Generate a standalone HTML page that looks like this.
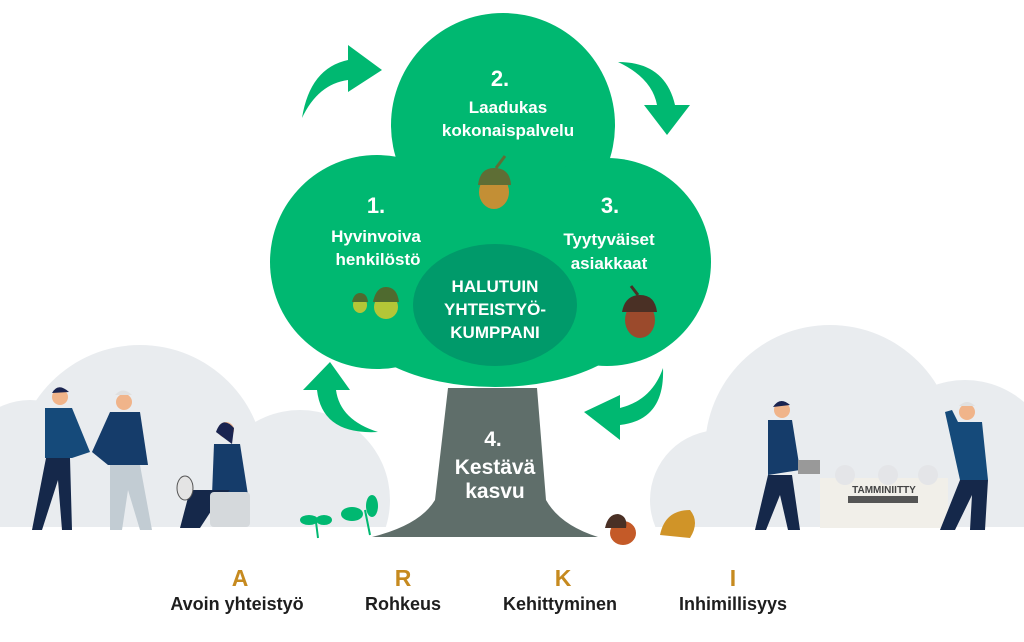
<!DOCTYPE html>
<html><head><meta charset="utf-8"><style>
html,body{margin:0;padding:0;background:#fff;width:1024px;height:642px;overflow:hidden}
svg{display:block}
text{font-family:"Liberation Sans",sans-serif;font-weight:bold;text-anchor:middle}
</style></head><body>
<svg width="1024" height="642" viewBox="0 0 1024 642">
<!-- hills -->
<g fill="#e9ecef">
<circle cx="140" cy="470" r="125"/>
<circle cx="30" cy="470" r="70"/>
<circle cx="300" cy="500" r="90"/>
<circle cx="830" cy="450" r="125"/>
<circle cx="965" cy="470" r="90"/>
<circle cx="720" cy="500" r="70"/>
</g>
<rect x="0" y="527" width="1024" height="115" fill="#fff"/>
<!-- canopy -->
<g fill="#00b871">
<circle cx="503" cy="125" r="112"/>
<circle cx="377" cy="262" r="107"/>
<circle cx="607" cy="262" r="104"/>
<ellipse cx="495" cy="315" rx="145" ry="72"/>
<rect x="385" y="170" width="225" height="150"/>
</g>
<ellipse cx="495" cy="305" rx="82" ry="61" fill="#009a6a"/>
<!-- trunk -->
<path d="M448 388 L537 388 L546 500 Q560 525 598 537 L372 537 Q420 525 435 500 Z" fill="#5f6e6a"/>
<!-- arrows -->
<g fill="#00b871">
<path d="M302 118 Q310 68 348 60 L348 45 L382 70 L348 92 L348 80 Q318 84 302 118 Z"/>
<path d="M618 62 Q665 62 675 105 L690 105 L667 135 L644 105 L657 105 Q652 78 618 62 Z"/>
<path d="M378 432 Q340 420 336 390 L350 390 L330 362 L303 390 L317 390 Q322 435 378 432 Z"/>
<path d="M663 368 Q665 420 620 425 L620 440 L584 412 L620 395 L620 408 Q652 400 663 368 Z"/>
</g>
<!-- acorns -->
<g>
<ellipse cx="494" cy="192" rx="15" ry="17" fill="#c38f35"/>
<path d="M478 185 Q480 168 494 168 Q510 168 511 185 Z" fill="#5e6e35"/>
<line x1="496" y1="168" x2="505" y2="156" stroke="#5e6e35" stroke-width="3"/>
<ellipse cx="360" cy="305" rx="7" ry="8" fill="#b4c637"/>
<path d="M352 302 Q354 293 360 293 Q367 293 368 302 Z" fill="#4f6a2f"/>
<ellipse cx="386" cy="307" rx="12" ry="12" fill="#b4c637"/>
<path d="M373 302 Q376 287 386 287 Q397 287 399 302 Z" fill="#4f6a2f"/>
<ellipse cx="640" cy="320" rx="15" ry="18" fill="#9b4a2c"/>
<path d="M622 312 Q625 295 640 295 Q655 295 657 312 Z" fill="#4a3025"/>
<line x1="638" y1="295" x2="631" y2="286" stroke="#4a3025" stroke-width="3"/>
<ellipse cx="623" cy="533" rx="13" ry="12" fill="#c45a28"/>
<path d="M605 528 Q608 514 618 514 Q628 516 626 528 Z" fill="#4a3025"/>
<path d="M660 535 Q665 510 690 510 Q700 522 690 538 Z" fill="#d09428"/>
</g>
<!-- sprouts -->
<g fill="#00b871" stroke="#00b871" stroke-width="2">
<line x1="316" y1="522" x2="318" y2="538"/>
<ellipse cx="309" cy="520" rx="8" ry="4"/><ellipse cx="324" cy="520" rx="7" ry="4"/>
<line x1="365" y1="510" x2="370" y2="535"/>
<ellipse cx="352" cy="514" rx="10" ry="6"/><ellipse cx="372" cy="506" rx="5" ry="10"/>
</g>
<!-- people simplified -->
<g>
<circle cx="60" cy="397" r="8" fill="#f0b48a"/><path d="M52 393 Q58 382 69 392 Z" fill="#1a2450"/>
<path d="M45 408 L72 408 L90 452 L72 458 L45 458 Z" fill="#154a7a"/>
<path d="M46 458 L70 458 L72 530 L62 530 L58 480 L42 530 L32 530 Z" fill="#15284a"/>
<circle cx="124" cy="402" r="8" fill="#f0b48a"/><path d="M115 395 Q123 386 132 395 Z" fill="#e0e0e0"/>
<path d="M110 412 L140 412 L148 465 L108 465 L92 452 Z" fill="#153c6a"/>
<path d="M110 465 L140 465 L152 530 L140 530 L128 490 L122 530 L110 530 Z" fill="#c2ccd3"/>
<circle cx="226" cy="430" r="8" fill="#f0b48a"/><path d="M216 432 Q222 415 234 428 L232 444 Z" fill="#1a2450"/>
<path d="M214 444 L240 444 L248 495 L212 495 Z" fill="#153c6a"/>
<path d="M190 490 L230 490 L215 505 L200 528 L180 528 Z" fill="#15284a"/>
<rect x="210" y="492" width="40" height="35" rx="4" fill="#d5d9dc"/>
<ellipse cx="185" cy="488" rx="8" ry="12" fill="#e4e4e4" stroke="#555" stroke-width="1"/>
<circle cx="782" cy="410" r="8" fill="#f0b48a"/><path d="M773 407 Q780 396 790 405 Z" fill="#1a2450"/>
<path d="M768 420 L792 420 L800 470 L768 475 Z" fill="#153c6a"/>
<path d="M768 475 L792 475 L800 530 L788 530 L780 495 L766 530 L755 530 Z" fill="#15284a"/>
<rect x="798" y="460" width="22" height="14" fill="#999"/>
<rect x="820" y="478" width="128" height="50" fill="#f1efe9"/>
<circle cx="845" cy="475" r="10" fill="#e4e5e8"/><circle cx="888" cy="475" r="10" fill="#e4e5e8"/><circle cx="928" cy="475" r="10" fill="#e4e5e8"/>
<text x="884" y="493" font-size="10" fill="#444">TAMMINIITTY</text>
<rect x="848" y="496" width="70" height="7" fill="#555"/>
<circle cx="967" cy="412" r="8" fill="#f0b48a"/><path d="M959 406 Q967 398 975 406 Z" fill="#e0e0e0"/>
<path d="M958 422 L982 422 L988 480 L960 480 L945 412 L952 410 Z" fill="#154a7a"/>
<path d="M960 480 L988 480 L985 530 L970 530 L972 495 L955 530 L940 530 Z" fill="#15284a"/>
</g>
<!-- tree text -->
<g fill="#fff">
<text x="500" y="86" font-size="22">2.</text>
<text x="508" y="113" font-size="17">Laadukas</text>
<text x="508" y="136" font-size="17">kokonaispalvelu</text>
<text x="376" y="213" font-size="22">1.</text>
<text x="376" y="242" font-size="17">Hyvinvoiva</text>
<text x="378" y="265" font-size="17">henkilöstö</text>
<text x="610" y="213" font-size="22">3.</text>
<text x="609" y="245" font-size="17">Tyytyväiset</text>
<text x="609" y="269" font-size="17">asiakkaat</text>
<text x="495" y="292" font-size="17">HALUTUIN</text>
<text x="495" y="315" font-size="17">YHTEISTYÖ-</text>
<text x="495" y="338" font-size="17">KUMPPANI</text>
<text x="493" y="446" font-size="21">4.</text>
<text x="495" y="474" font-size="21">Kestävä</text>
<text x="495" y="498" font-size="21">kasvu</text>
</g>
<!-- ARKI -->
<g fill="#c68a1f" font-size="23">
<text x="240" y="586">A</text><text x="403" y="586">R</text><text x="563" y="586">K</text><text x="733" y="586">I</text>
</g>
<g fill="#1e1e1e" font-size="18">
<text x="237" y="610">Avoin yhteistyö</text><text x="403" y="610">Rohkeus</text><text x="560" y="610">Kehittyminen</text><text x="733" y="610">Inhimillisyys</text>
</g>
</svg>
</body></html>
